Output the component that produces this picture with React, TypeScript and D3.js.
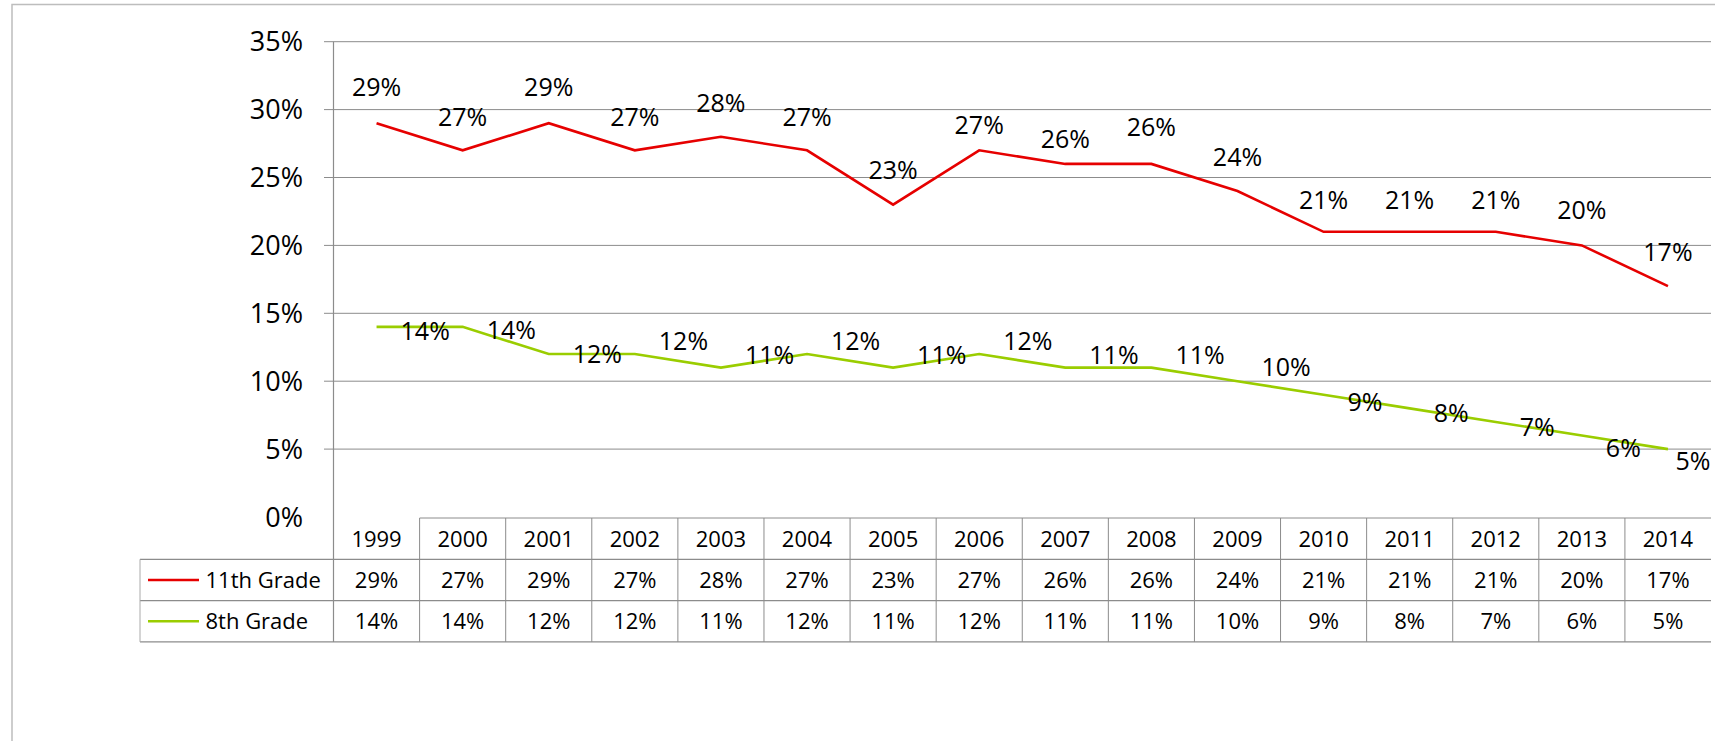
import React from 'react';
import * as d3 from 'd3';

const years = ['1999','2000','2001','2002','2003','2004','2005','2006','2007','2008','2009','2010','2011','2012','2013','2014'];
const grade11 = [29,27,29,27,28,27,23,27,26,26,24,21,21,21,20,17];
const grade8 = [14,14,12,12,11,12,11,12,11,11,10,9,8,7,6,5];
const yTicks = [0,5,10,15,20,25,30,35];
const seriesNames = ['11th Grade','8th Grade'];

// label nudges (vertical offsets of the data labels, px)
const lbl11Dy = [-36,-33,-36,-33,-34,-33,-35,-25,-25,-37,-34,-32,-32,-32,-35,-34];
const lbl8Dy = [4,3,0,-13,-13,-13,-13,-13,-13,-13,-14,7,5,5,12,12];

const W = 1715, H = 741;
const FONT = '"Open Sans", "DejaVu Sans", sans-serif';
const RED = '#e60000';
const GREEN = '#9acd00';
const GRID = '#8c8c8c';

export default function App() {
  const left = 333.5, right = 1711;
  const x = d3.scaleBand<string>().domain(years).range([left, right]);
  const bw = x.bandwidth();
  const cx = (i: number) => (x(years[i]) as number) + bw / 2;
  const y = d3.scaleLinear().domain([0, 35]).range([517, 41.7]);

  const line = d3.line<number>().x((_, i) => cx(i)).y(d => y(d));

  const rowTop = 518, rowH = 41.3;
  const legendLeft = 140;
  const fmt = (v: number) => `${v}%`;
  const w8 = (s: string) => s.length * 0.572 * 25 + 0.274 * 25; // approx width

  return (
    <svg width={W} height={H} style={{ position: 'absolute', left: 0, top: 0, background: '#fff' }} fontFamily={FONT}>
      <rect x={0} y={0} width={W} height={H} fill="#fff" />
      {/* outer frame */}
      <rect x={12} y={4.5} width={W + 20} height={H + 20} fill="none" stroke="#bdbdbd" strokeWidth={1.5} />

      {/* gridlines + ticks */}
      {yTicks.filter(t => t > 0).map(t => (
        <line key={t} x1={324} x2={right} y1={y(t)} y2={y(t)} stroke={GRID} strokeWidth={1} />
      ))}
      {yTicks.map(t => (
        <text key={'yl' + t} x={303} y={y(t) + 0.36 * 27} textAnchor="end" fontSize={27} fill="#000">{fmt(t)}</text>
      ))}

      {/* vertical axis */}
      <line x1={left} x2={left} y1={y(35)} y2={rowTop + 3 * rowH} stroke={GRID} strokeWidth={1.2} />

      {/* table */}
      <line x1={(x(years[1]) as number)} x2={right} y1={rowTop} y2={rowTop} stroke={GRID} />
      {[1, 2, 3].map(r => (
        <line key={'hr' + r} x1={legendLeft} x2={right} y1={rowTop + r * rowH} y2={rowTop + r * rowH} stroke={GRID} strokeWidth={1.2} />
      ))}
      <line x1={legendLeft} x2={legendLeft} y1={rowTop + rowH} y2={rowTop + 3 * rowH} stroke="#aaa" />
      {years.slice(1).map(yr => (
        <line key={'vc' + yr} x1={x(yr) as number} x2={x(yr) as number} y1={rowTop} y2={rowTop + 3 * rowH} stroke={GRID} />
      ))}
      {years.map((yr, i) => (
        <text key={'yr' + yr} x={cx(i)} y={rowTop + rowH / 2 + 0.36 * 22} textAnchor="middle" fontSize={22}>{yr}</text>
      ))}
      {grade11.map((v, i) => (
        <text key={'t11' + i} x={cx(i)} y={rowTop + rowH * 1.5 + 0.36 * 22} textAnchor="middle" fontSize={22}>{fmt(v)}</text>
      ))}
      {grade8.map((v, i) => (
        <text key={'t8' + i} x={cx(i)} y={rowTop + rowH * 2.5 + 0.36 * 22} textAnchor="middle" fontSize={22}>{fmt(v)}</text>
      ))}
      {/* legend keys */}
      {[RED, GREEN].map((c, k) => (
        <g key={'lg' + k}>
          <line x1={148} x2={199} y1={rowTop + rowH * (1.5 + k)} y2={rowTop + rowH * (1.5 + k)} stroke={c} strokeWidth={2.5} />
          <text x={205.5} y={rowTop + rowH * (1.5 + k) + 0.36 * 22} fontSize={22}>{seriesNames[k]}</text>
        </g>
      ))}

      {/* lines */}
      <path d={line(grade11) as string} fill="none" stroke={RED} strokeWidth={2.6} strokeLinejoin="miter" />
      <path d={line(grade8) as string} fill="none" stroke={GREEN} strokeWidth={2.6} strokeLinejoin="miter" />

      {/* data labels */}
      {grade11.map((v, i) => (
        <text key={'l11' + i} x={cx(i)} y={y(v) + lbl11Dy[i] + 0.36 * 25} textAnchor="middle" fontSize={25}>{fmt(v)}</text>
      ))}
      {grade8.map((v, i) => {
        const s = fmt(v);
        const wd = (s.length - 1) * 0.572 * 25 + 0.846 * 25;
        const lx = Math.min(cx(i) + 24, right - wd);
        return (
          <text key={'l8' + i} x={lx} y={y(v) + lbl8Dy[i] + 0.36 * 25} textAnchor="start" fontSize={25}>{s}</text>
        );
      })}
    </svg>
  );
}
